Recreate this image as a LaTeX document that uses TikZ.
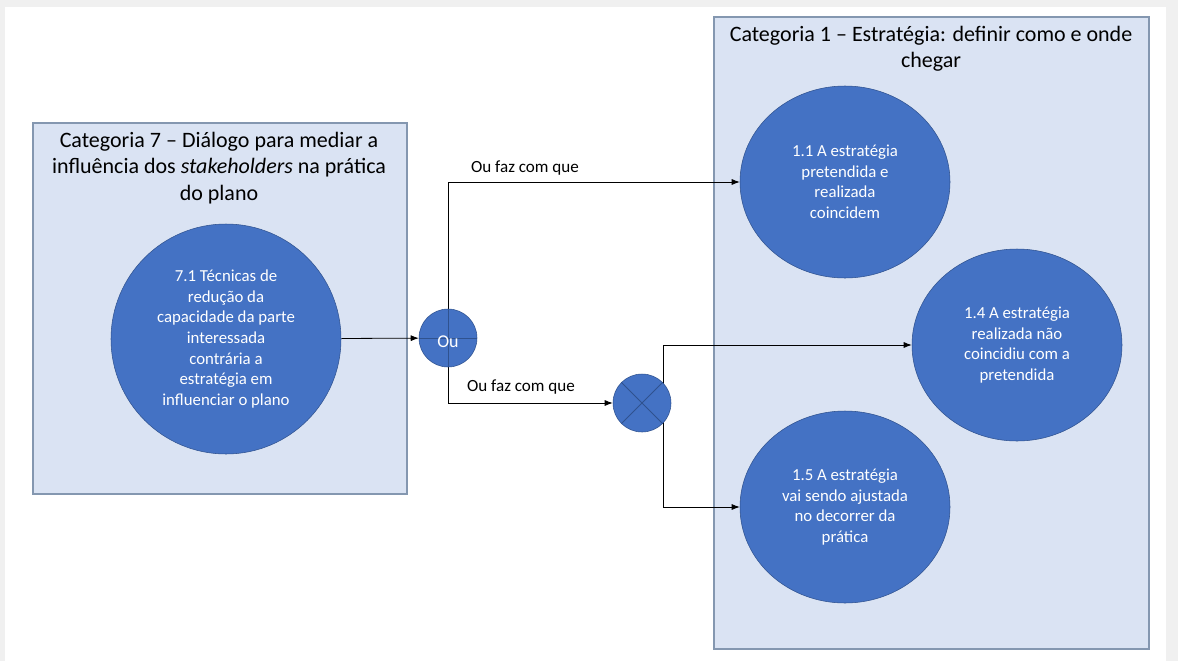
\documentclass[tikz,border=0pt]{standalone}
\usepackage{fontspec}
\setmainfont{Carlito}
\usetikzlibrary{shapes.geometric,arrows.meta}
\definecolor{boxfill}{HTML}{DAE3F3}
\definecolor{boxline}{HTML}{8497B0}
\definecolor{blob}{HTML}{4472C4}
\definecolor{blobline}{HTML}{2F528F}
\pgfdeclarelayer{back}
\pgfdeclarelayer{wires}
\pgfsetlayers{back,wires,main}

\begin{document}
\begin{tikzpicture}[x=0.75pt,y=-0.75pt,
    catbox/.style={draw=boxline,fill=boxfill,line width=0.8pt,inner sep=0},
    cattitle/.style={align=center,font=\fontsize{16.5}{19.8}\selectfont},
    blobc/.style={circle,draw=blobline,fill=blob,text=white,inner sep=0,minimum size=172.5pt,align=center,font=\fontsize{12.6}{15.4}\selectfont},
    blobe/.style={ellipse,draw=blobline,fill=blob,text=white,inner sep=0,minimum width=157.5pt,minimum height=144pt,align=center,font=\fontsize{12.6}{15.4}\selectfont},
    gate/.style={circle,draw=blobline,fill=blob,text=white,inner sep=0,minimum size=43.5pt,font=\fontsize{13.5}{15}\selectfont},
    arr/.style={-{Latex[length=6pt,width=4.5pt]},line width=0.6pt},
    lbl/.style={font=\fontsize{12.8}{15}\selectfont}]
  \useasboundingbox (0,0) rectangle (1178,661);
  \begin{pgfonlayer}{back}
    \fill[gray!12] (0,0) rectangle (1178,661);
    \fill[white] (5,7) rectangle (1166,661);
    \node[catbox,minimum width=280.5pt,minimum height=278.25pt] (cat7) at (220,308.5) {};
    \node[catbox,minimum width=326.25pt,minimum height=474pt] (cat1) at (931.5,333) {};
  \end{pgfonlayer}

  % category titles
  \node[cattitle] (t7) at (219,168) {Categoria 7 -- Diálogo para mediar a\\influência dos \textit{stakeholders} na prática\\do plano};
  \node[cattitle] (t1) at (931,49) {Categoria 1 -- Estratégia: definir como e onde\\chegar};

  % items
  \node[blobc] (c71) at (226,339) {7.1 Técnicas de\\redução da\\capacidade da parte\\interessada\\contrária a\\estratégia em\\influenciar o plano};
  \node[blobe] (c11) at (845,182) {1.1 A estratégia\\pretendida e\\realizada\\coincidem};
  \node[blobe] (c14) at (1017,345) {1.4 A estratégia\\realizada não\\coincidiu com a\\pretendida};
  \node[blobe] (c15) at (845,507) {1.5 A estratégia\\vai sendo ajustada\\no decorrer da\\prática};

  % gates
  \node[gate] (ou) at (448,338) {};
  \draw[blobline,line width=0.6pt] (ou.west) -- (ou.east) (ou.north) -- (ou.south);
  \node[text=white,font=\fontsize{13.5}{15}\selectfont] (out) at (448,342) {Ou};
  \node[gate] (xo) at (642,403) {};
  \draw[blobline,line width=0.6pt] (xo.north west) -- (xo.south east) (xo.north east) -- (xo.south west);
  \coordinate (fork) at (663,403);

  \node[lbl] (l1) at (525,168) {Ou faz com que};
  \node[lbl] (l2) at (521,387) {Ou faz com que};

  \begin{pgfonlayer}{wires}
    \draw[arr] (c71) -- (ou);
    \draw[arr] (ou.center) |- (c11);
    \draw[arr] (ou.center) |- (xo);
    \draw[arr] (fork) |- (c14);
    \draw[arr] (fork) |- (c15);
  \end{pgfonlayer}
\end{tikzpicture}
\end{document}
